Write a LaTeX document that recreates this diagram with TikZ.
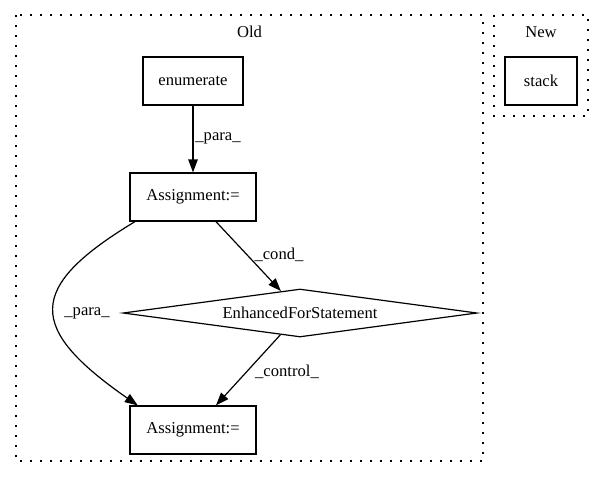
\documentclass[tikz,border=0pt]{standalone}
\usepackage{fontspec}
\setmainfont{Liberation Serif}
\usepackage{xcolor}
\usepackage{tikz}
\usetikzlibrary{shapes.geometric,arrows.meta}

\begin{document}
\begin{tikzpicture}[x=1pt, y=1pt,
  every node/.style={font=\fontsize{16.6}{20}\selectfont},
  box/.style={draw, line width=1.2pt, rectangle, inner sep=0pt, minimum height=48pt},
  decision/.style={draw, line width=1.2pt, diamond, aspect=7.4, inner sep=0pt, minimum width=354pt, minimum height=48pt},
  cluster/.style={line width=1.3pt, dash pattern=on 1.6pt off 8.4pt},
  edge/.style={line width=1.2pt, -{Triangle[length=13pt, width=9.5pt]}},
  elabel/.style={inner sep=0pt}]
\useasboundingbox (0,0) rectangle (604,-480);
% clusters
\draw[cluster] (16,-15) rectangle (483,-461);
\draw[cluster] (494,-15) rectangle (588,-116);
\node (oldlbl) at (249.5,-32) {Old};
\node (newlbl) at (541,-32) {New};
% nodes
\node[box, minimum width=100pt] (enum) at (193,-81) {enumerate};
\node[box, minimum width=72pt] (stack) at (541,-81) {stack};
\node[box, minimum width=126pt] (asg1) at (193,-197) {Assignment:=};
\node[decision] (efs) at (300,-313) {EnhancedForStatement};
\node[box, minimum width=126pt] (asg2) at (193,-430) {Assignment:=};
% edges
\draw[edge] (enum.south) -- (asg1.north);
\node[elabel] at (218,-138) {\_para\_};
\draw[edge] (asg1.313) -- (efs.131);
\node[elabel] at (279,-255) {\_cond\_};
\draw[edge] (asg1.203) .. controls +(-109.5,-66) and +(-110.5,77) .. (asg2.156);
\node[elabel] at (87,-313) {\_para\_};
\draw[edge] (efs.228) -- (asg2.47);
\node[elabel] at (287,-372) {\_control\_};
\end{tikzpicture}
\end{document}
